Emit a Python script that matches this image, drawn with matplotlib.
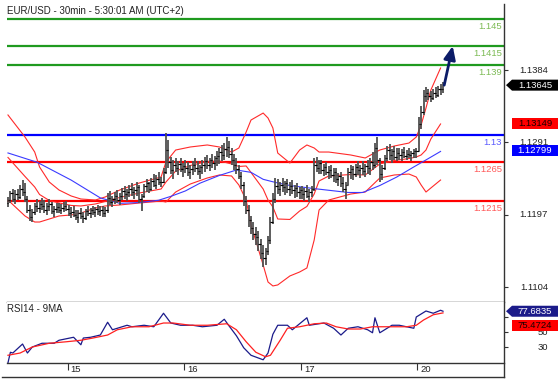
import numpy as np
import matplotlib
matplotlib.use("Agg")
import matplotlib.pyplot as plt
from matplotlib.lines import Line2D
from matplotlib.patches import Polygon

plt.rcParams['font.family'] = ['Liberation Sans', 'DejaVu Sans']

W, H = 558, 380

# ---- 30 min OHLC bars (open = previous close) ----
first_open = 1.1213
closes = [
    1.1216, 1.1225, 1.1218, 1.1224, 1.1220, 1.1231, 1.1226, 1.1217, 1.1204, 1.1195,
    1.1201, 1.1209, 1.1206, 1.1211, 1.1209, 1.1203, 1.1208, 1.1211, 1.1202, 1.1205,
    1.1207, 1.1204, 1.1206, 1.1209, 1.1205, 1.1199, 1.1201, 1.1197, 1.1194, 1.1199,
    1.1196, 1.1193, 1.1202, 1.1199, 1.1203, 1.1201, 1.1205, 1.1202, 1.1204, 1.1200,
    1.1203, 1.1219, 1.1214, 1.1218, 1.1221, 1.1216, 1.1222, 1.1228, 1.1224, 1.1227,
    1.1231, 1.1226, 1.1229, 1.1233, 1.1218, 1.1221, 1.1234, 1.1238, 1.1231, 1.1241,
    1.1236, 1.1244, 1.1239, 1.1240, 1.1252, 1.1281, 1.1265, 1.1255, 1.1262, 1.1258,
    1.1263, 1.1256, 1.1260, 1.1257, 1.1252, 1.1256, 1.1261, 1.1258, 1.1254, 1.1259,
    1.1262, 1.1266, 1.1262, 1.1268, 1.1264, 1.1270, 1.1273, 1.1278, 1.1274, 1.1282,
    1.1285, 1.1276, 1.1268, 1.1262, 1.1256, 1.1247, 1.1236, 1.1215, 1.1203, 1.1190,
    1.1180, 1.1172, 1.1168, 1.1160, 1.1148, 1.1142, 1.1150, 1.1165, 1.1188, 1.1218,
    1.1235, 1.1230, 1.1236, 1.1233, 1.1238, 1.1231, 1.1234, 1.1229, 1.1232, 1.1226,
    1.1229, 1.1224, 1.1228, 1.1222, 1.1227, 1.1230, 1.1262, 1.1258, 1.1264, 1.1255,
    1.1259, 1.1252, 1.1255, 1.1249, 1.1252, 1.1244, 1.1247, 1.1238, 1.1231, 1.1236,
    1.1252, 1.1256, 1.1250, 1.1259, 1.1255, 1.1258, 1.1254, 1.1260, 1.1257, 1.1265,
    1.1262, 1.1284, 1.1268, 1.1250, 1.1258, 1.1270, 1.1281, 1.1275, 1.1279, 1.1272,
    1.1277, 1.1274, 1.1278, 1.1273, 1.1276, 1.1274, 1.1277, 1.1279, 1.1280, 1.1315,
    1.1330, 1.1350, 1.1355, 1.1351, 1.1348, 1.1354, 1.1352, 1.1359, 1.1360, 1.13645,
]
highs = [
    1.1220, 1.1228, 1.1230, 1.1229, 1.1231, 1.1236, 1.1242, 1.1238, 1.1221, 1.1210,
    1.1205, 1.1213, 1.1218, 1.1215, 1.1219, 1.1216, 1.1213, 1.1217, 1.1214, 1.1209,
    1.1212, 1.1213, 1.1211, 1.1214, 1.1215, 1.1210, 1.1207, 1.1209, 1.1204, 1.1203,
    1.1206, 1.1201, 1.1205, 1.1208, 1.1206, 1.1209, 1.1207, 1.1210, 1.1208, 1.1209,
    1.1207, 1.1225, 1.1228, 1.1222, 1.1226, 1.1229, 1.1225, 1.1232, 1.1234, 1.1230,
    1.1236, 1.1238, 1.1233, 1.1239, 1.1236, 1.1224, 1.1237, 1.1243, 1.1240, 1.1245,
    1.1250, 1.1248, 1.1252, 1.1246, 1.1257, 1.1303, 1.1294, 1.1272, 1.1268, 1.1271,
    1.1266, 1.1270, 1.1264, 1.1268, 1.1265, 1.1262, 1.1267, 1.1270, 1.1266, 1.1262,
    1.1268, 1.1272, 1.1274, 1.1270, 1.1276, 1.1273, 1.1279, 1.1284, 1.1287, 1.1290,
    1.1297, 1.1292, 1.1284, 1.1276, 1.1270, 1.1262, 1.1252, 1.1240, 1.1222, 1.1210,
    1.1196, 1.1188, 1.1182, 1.1176, 1.1166, 1.1158, 1.1154, 1.1170, 1.1195, 1.1225,
    1.1245, 1.1244, 1.1240, 1.1245, 1.1241, 1.1244, 1.1239, 1.1242, 1.1236, 1.1238,
    1.1233, 1.1235, 1.1232, 1.1236, 1.1231, 1.1234, 1.1270, 1.1272, 1.1268, 1.1268,
    1.1263, 1.1265, 1.1260, 1.1262, 1.1257, 1.1258, 1.1251, 1.1253, 1.1246, 1.1240,
    1.1258, 1.1262, 1.1260, 1.1263, 1.1266, 1.1262, 1.1266, 1.1263, 1.1268, 1.1270,
    1.1278, 1.1290, 1.1298, 1.1270, 1.1262, 1.1275, 1.1286, 1.1288, 1.1282, 1.1286,
    1.1283, 1.1284, 1.1282, 1.1285, 1.1281, 1.1283, 1.1280, 1.1282, 1.1284, 1.1323,
    1.1338, 1.1358, 1.1362, 1.1360, 1.1357, 1.1360, 1.1362, 1.1364, 1.1366, 1.1368,
]
lows = [
    1.1207, 1.1212, 1.1214, 1.1211, 1.1216, 1.1217, 1.1222, 1.1214, 1.1200, 1.1189,
    1.1188, 1.1197, 1.1201, 1.1200, 1.1204, 1.1199, 1.1197, 1.1202, 1.1198, 1.1195,
    1.1199, 1.1200, 1.1198, 1.1201, 1.1202, 1.1196, 1.1193, 1.1195, 1.1190, 1.1187,
    1.1192, 1.1186, 1.1190, 1.1196, 1.1193, 1.1197, 1.1195, 1.1197, 1.1196, 1.1194,
    1.1195, 1.1200, 1.1210, 1.1207, 1.1211, 1.1213, 1.1210, 1.1216, 1.1218, 1.1215,
    1.1220, 1.1221, 1.1218, 1.1222, 1.1212, 1.1202, 1.1219, 1.1226, 1.1225, 1.1228,
    1.1233, 1.1231, 1.1236, 1.1233, 1.1238, 1.1250, 1.1258, 1.1250, 1.1244, 1.1252,
    1.1248, 1.1252, 1.1246, 1.1251, 1.1247, 1.1244, 1.1249, 1.1252, 1.1248, 1.1243,
    1.1250, 1.1253, 1.1256, 1.1254, 1.1258, 1.1255, 1.1260, 1.1263, 1.1266, 1.1268,
    1.1272, 1.1270, 1.1262, 1.1255, 1.1250, 1.1243, 1.1230, 1.1208, 1.1198, 1.1182,
    1.1172, 1.1165, 1.1158, 1.1150, 1.1140, 1.1130, 1.1133, 1.1145, 1.1160, 1.1185,
    1.1212, 1.1224, 1.1221, 1.1226, 1.1223, 1.1225, 1.1222, 1.1224, 1.1219, 1.1220,
    1.1218, 1.1218, 1.1215, 1.1219, 1.1214, 1.1220, 1.1228, 1.1252, 1.1250, 1.1250,
    1.1247, 1.1248, 1.1244, 1.1245, 1.1240, 1.1238, 1.1234, 1.1233, 1.1226, 1.1218,
    1.1236, 1.1244, 1.1242, 1.1246, 1.1248, 1.1245, 1.1249, 1.1246, 1.1250, 1.1248,
    1.1255, 1.1258, 1.1262, 1.1240, 1.1242, 1.1255, 1.1266, 1.1268, 1.1264, 1.1268,
    1.1266, 1.1268, 1.1267, 1.1270, 1.1268, 1.1270, 1.1267, 1.1270, 1.1271, 1.1280,
    1.1308, 1.1326, 1.1343, 1.1345, 1.1343, 1.1345, 1.1348, 1.1349, 1.1352, 1.1355,
]

# ---- Bollinger bands (red) read at bar positions ----
band_idx = [0, 7, 11, 13, 17, 21, 26, 30, 36, 40, 46, 54, 63, 65, 69, 75, 82, 87, 92, 95,
            98, 100, 105, 107, 109, 111, 116, 120, 123, 126, 128, 132, 141, 147, 153, 159,
            165, 168, 170, 172, 174, 178]
band_upper = [1.13260, 1.12976, 1.12782, 1.12589, 1.12395, 1.12292, 1.12215, 1.12176, 1.12163, 1.12202,
              1.12292, 1.12382, 1.12460, 1.12653, 1.12808, 1.12847, 1.12873, 1.12847, 1.12782, 1.12834,
              1.13040, 1.13195, 1.13285, 1.13221, 1.13092, 1.12769, 1.12640, 1.12808, 1.12873, 1.12834,
              1.12782, 1.12782, 1.12744, 1.12705, 1.12808, 1.12860, 1.12898, 1.12976, 1.13131, 1.13350,
              1.13582, 1.13866]
band_mid = [1.12712, 1.12467, 1.12331, 1.12234, 1.12157, 1.12125, 1.12093, 1.12086, 1.12112, 1.12144,
            1.12196, 1.12253, 1.12305, 1.12395, 1.12537, 1.12608, 1.12660, 1.12667, 1.12628, 1.12596,
            1.12602, 1.12518, 1.12305, 1.12163, 1.12073, 1.11918, 1.11912, 1.12021, 1.12080, 1.12241,
            1.12408, 1.12473, 1.12492, 1.12486, 1.12628, 1.12673, 1.12698, 1.12718, 1.12744, 1.12808,
            1.12950, 1.13144]
band_lower = [1.12163, 1.11957, 1.11879, 1.11879, 1.11918, 1.11957, 1.11970, 1.11995, 1.12060, 1.12086,
              1.12099, 1.12124, 1.12150, 1.12137, 1.12266, 1.12369, 1.12447, 1.12486, 1.12473, 1.12357,
              1.12163, 1.11841, 1.11325, 1.11105, 1.11054, 1.11067, 1.11183, 1.11234, 1.11286, 1.11647,
              1.12034, 1.12163, 1.12240, 1.12266, 1.12447, 1.12486, 1.12498, 1.12460, 1.12357, 1.12266,
              1.12318, 1.12421]

# ---- slow moving average (blue) ----
sma_idx = [0, 12, 26, 38, 46, 54, 62, 67, 73, 79, 87, 94, 100, 105, 110, 116, 126, 140, 146, 153,
           160, 167, 172, 178]
sma_vals = [1.1277, 1.1265, 1.1242, 1.1219, 1.1212, 1.1213, 1.1216, 1.1221, 1.1228, 1.1238,
            1.1248, 1.1255, 1.1252, 1.1243, 1.1239, 1.1235, 1.1231, 1.1226, 1.1226, 1.1235,
            1.1246, 1.1259, 1.1268, 1.1279]

# ---- RSI14 and its 9 period MA ----
rsi_idx = [0, 1, 2, 6, 8, 10, 14, 19, 21, 27, 30, 31, 34, 38, 41, 43, 45, 49, 51, 56,
           60, 64, 67, 71, 76, 80, 86, 89, 91, 94, 97, 100, 105, 107, 109, 111, 115, 117, 123, 124,
           130, 134, 137, 140, 144, 148, 150, 151, 153, 158, 161, 167, 168, 172, 175, 178, 179]
rsi_vals = [9, 23, 22, 34, 22, 30, 35, 35, 39, 43, 33, 42, 43, 46, 63, 53, 55, 59, 57, 59,
            57, 75, 62, 59, 59, 57, 59, 67, 58, 45, 29, 19, 13, 22, 47, 59, 59, 53, 69, 59,
            62, 55, 46, 55, 57, 53, 49, 69, 49, 59, 59, 55, 70, 78, 75, 79, 77.68]
rsi_ma_idx = [0, 5, 10, 17, 24, 30, 35, 41, 45, 51, 58, 64, 68, 75, 82, 90, 94, 98, 102, 106,
              108, 112, 115, 120, 126, 131, 135, 140, 145, 150, 156, 164, 168, 171, 175, 179]
rsi_ma_vals = [19, 22, 30, 35, 37, 39, 42, 46, 53, 57, 57, 62, 62, 59, 59, 61, 53, 37, 23, 17,
               19, 39, 55, 57, 61, 62, 57, 54, 54, 57, 57, 57, 59, 66, 73, 75.47]

# ---- levels and labels ----
green_levels = [1.145, 1.1415, 1.139]
blue_levels = [1.13]
red_levels = [1.1265, 1.1215]
level_labels = {1.145: '1.145', 1.1415: '1.1415', 1.139: '1.139',
                1.13: '1.13', 1.1265: '1.1265', 1.1215: '1.1215'}
price_ticks = [1.1104, 1.1197, 1.1291, 1.1384]
rsi_ticks = [30, 50, 70]
rsi_tick_labels = ['30', '50', '']   # 70 sits under the value tags
day_start = [25, 73, 121, 169]
day_labels = ['15', '16', '17', '20']
target = 1.1415
last_price, prev_mark, sma_last = 1.13645, 1.13149, 1.12799
rsi_last, rsi_ma_last = 77.6835, 75.4724

fig = plt.figure(figsize=(W / 100, H / 100), dpi=100)


def fx(px):
    return px / W


def fy(py):
    return 1 - py / H


ax = fig.add_axes([fx(7), fy(302), fx(504) - fx(7), fy(4) - fy(302)])
ax_rsi = fig.add_axes([fx(7), fy(363), fx(504) - fx(7), fy(302) - fy(363)], sharex=ax)

idx = np.arange(len(closes))
opens = np.r_[first_open, closes[:-1]]

ax.vlines(idx, lows, highs, color='#505050', lw=1.3, zorder=3)
ax.hlines(opens, idx - 0.6, idx, color='black', lw=0.8, zorder=3)
ax.hlines(closes, idx, idx + 0.6, color='black', lw=0.8, zorder=3)

for band in (band_upper, band_mid, band_lower):
    ax.plot(band_idx, band, color='#ff2a2a', lw=0.8, zorder=2)
ax.plot(sma_idx, sma_vals, color='#3b3bff', lw=0.8, zorder=2)

for levels, lc, tc in ((green_levels, '#1f9a1f', '#7dbb55'),
                       (blue_levels, '#0000ff', '#5b5bff'),
                       (red_levels, '#ff0000', '#ff5a5a')):
    for lv in levels:
        ax.axhline(lv, color=lc, lw=1.6, zorder=1)
        ax.annotate(level_labels[lv], xy=(1, lv), xycoords=('axes fraction', 'data'),
                    xytext=(-2, -3), textcoords='offset pixels', ha='right', va='top',
                    color=tc, fontsize=6.8)

ax.annotate('', xy=(183, target), xytext=(idx[-1] + 0.5, closes[-1]),
            arrowprops=dict(arrowstyle='-|>,head_width=0.35,head_length=0.8',
                            color='#0c1c68', lw=2, shrinkA=0, shrinkB=0), zorder=6)

ax.set_xlim(-0.4, 204.1)
ax.set_ylim(1.10847, 1.14692)

ax_rsi.plot(rsi_idx, rsi_vals, color='#1b1b8a', lw=0.9)
ax_rsi.plot(rsi_ma_idx, rsi_ma_vals, color='#ff2020', lw=0.9)
ax_rsi.set_ylim(8.7, 90)

for a in (ax, ax_rsi):
    for s in ('top', 'left', 'right'):
        a.spines[s].set_visible(False)
    a.spines['bottom'].set_color('#333333')
    a.spines['bottom'].set_linewidth(1.0)
    a.tick_params(axis='y', left=False, labelleft=False, right=True, labelright=False,
                  direction='out', length=3, width=0.8, color='#333333')

ax.set_yticks(price_ticks)
ax.tick_params(axis='x', bottom=False, labelbottom=False)
ax_rsi.set_yticks(rsi_ticks)

for v in price_ticks:
    ax.annotate(f'{v:.4f}', xy=(1, v), xycoords=('axes fraction', 'data'),
                xytext=(44, 0), textcoords='offset pixels', ha='right', va='center',
                fontsize=6.8, color='#222222')
for v, lbl in zip(rsi_ticks, rsi_tick_labels):
    if lbl:
        ax_rsi.annotate(lbl, xy=(1, v), xycoords=('axes fraction', 'data'),
                        xytext=(44, 0), textcoords='offset pixels', ha='right', va='center',
                        fontsize=6.8, color='#222222')

ax_rsi.set_xticks([d - 0.5 for d in day_start])
ax_rsi.tick_params(axis='x', direction='out', length=5, width=0.8, color='#333333',
                   labelbottom=False)
for d, lbl in zip(day_start, day_labels):
    ax_rsi.annotate(lbl, xy=(d - 0.5, 0), xycoords=('data', 'axes fraction'),
                    xytext=(3, -2), textcoords='offset pixels', ha='left', va='top',
                    fontsize=6.8, color='#222222')

# frame lines: right axis line and bottom rule
fig.add_artist(Line2D([fx(504), fx(504)], [fy(4), fy(377)], color='#333333', lw=1.0))
fig.add_artist(Line2D([fx(2), fx(504)], [fy(377), fy(377)], color='#333333', lw=1.0))

fig.text(fx(7), fy(11), 'EUR/USD - 30min - 5:30:01 AM (UTC+2)', fontsize=7.0,
         color='#222222', va='center', ha='left')
fig.text(fx(7), fy(309), 'RSI14 - 9MA', fontsize=7.0, color='#222222', va='center', ha='left')


def tag(axis, value, text, face, tcolor, arrow, shift=0.0):
    ypix = axis.transData.transform((0, value))[1] + shift
    x0 = 506 if arrow else 512
    y0, y1 = ypix - 5.5, ypix + 5.5
    if arrow:
        pts = [(x0, ypix), (x0 + 6, y1), (W, y1), (W, y0), (x0 + 6, y0)]
    else:
        pts = [(x0, y1), (W, y1), (W, y0), (x0, y0)]
    fig.add_artist(Polygon([(px / W, py / H) for px, py in pts], closed=True,
                           transform=fig.transFigure, facecolor=face, edgecolor='none',
                           zorder=5))
    fig.text(535 / W, ypix / H, text, color=tcolor, fontsize=6.8, ha='center',
             va='center', zorder=6)
    return ypix


tag(ax, last_price, '1.13645', '#000000', 'white', True)
tag(ax, prev_mark, '1.13149', '#ff0000', '#1a0000', False)
tag(ax, sma_last, '1.12799', '#0000ff', 'white', False)
yb = tag(ax_rsi, rsi_last, f'{rsi_last:.4f}', '#1b1b8a', 'white', True)
ylab = ax_rsi.transData.transform((0, rsi_ma_last))[1]
tag(ax_rsi, rsi_ma_last, f'{rsi_ma_last:.4f}', '#ff0000', '#1a0000', False,
    shift=(yb - 14) - ylab)

fig.savefig('out.png', dpi=100, facecolor='white')
